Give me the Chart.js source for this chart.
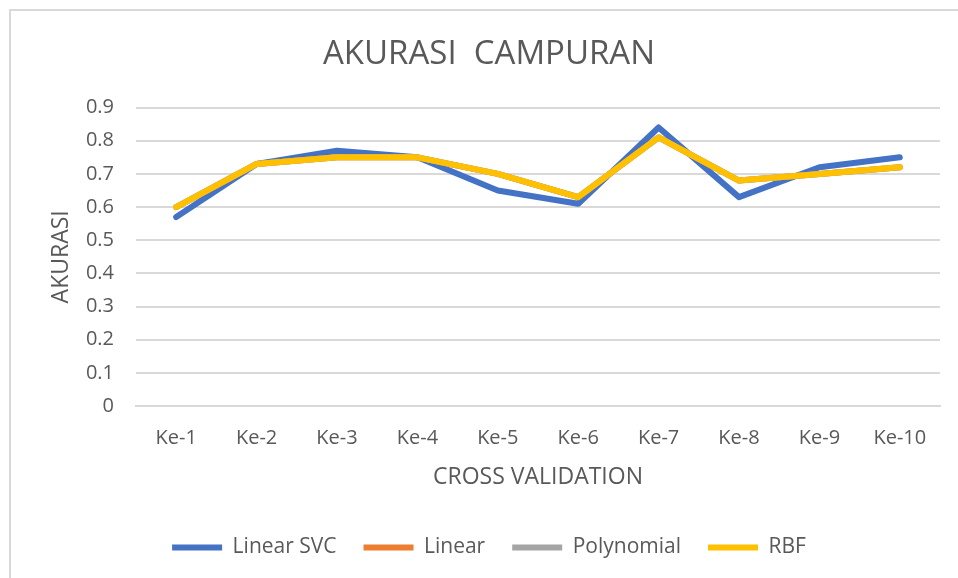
<!DOCTYPE html>
<html>
<head>
<meta charset="utf-8">
<script src="https://cdn.jsdelivr.net/npm/chart.js@4"></script>
<style>
  body { margin: 0; background: #fff; }
  #wrap { position: relative; width: 958px; height: 578px; overflow: hidden; }
  #frame { position: absolute; left: 9px; top: 9px; width: 980px; height: 600px; border: 2px solid #d9d9d9; box-sizing: border-box; }
  canvas { position: absolute; left: 0; top: 0; }
</style>
</head>
<body>
<div id="wrap">
  <div id="frame"></div>
  <canvas id="chart" width="958" height="578"></canvas>
</div>
<script>
const labels = ["Ke-1", "Ke-2", "Ke-3", "Ke-4", "Ke-5", "Ke-6", "Ke-7", "Ke-8", "Ke-9", "Ke-10"];
const linearSvc = [0.57, 0.73, 0.77, 0.75, 0.65, 0.61, 0.84, 0.63, 0.72, 0.75];
const linear = [0.60, 0.73, 0.75, 0.75, 0.70, 0.63, 0.81, 0.68, 0.70, 0.72];
const polynomial = [0.60, 0.73, 0.75, 0.75, 0.70, 0.63, 0.81, 0.68, 0.70, 0.72];
const rbf = [0.60, 0.73, 0.75, 0.75, 0.70, 0.63, 0.81, 0.68, 0.70, 0.72];

const textColor = "#595959";
const gridColor = "#d9d9d9";

function series(label, data, color, order) {
  return {
    label,
    data,
    borderColor: color,
    backgroundColor: color,
    borderWidth: 6,
    borderCapStyle: "round",
    borderJoinStyle: "round",
    pointRadius: 0,
    pointStyle: "line",
    tension: 0,
    order
  };
}

new Chart(document.getElementById("chart"), {
  type: "line",
  data: {
    labels,
    datasets: [
      series("Linear SVC", linearSvc, "#4472C4", 4),
      series("Linear", linear, "#ED7D31", 3),
      series("Polynomial", polynomial, "#A5A5A5", 2),
      series("RBF", rbf, "#FFC000", 1)
    ]
  },
  options: {
    responsive: false,
    animation: false,
    layout: { padding: { left: 38, right: 18, top: 0, bottom: 10 } },
    plugins: {
      tooltip: { enabled: false },
      title: {
        display: true,
        text: "AKURASI  CAMPURAN",
        color: textColor,
        font: { family: "'Liberation Sans Narrow', 'Open Sans', sans-serif", size: 33, weight: "normal" },
        padding: { top: 35, bottom: 33 }
      },
      legend: {
        position: "bottom",
        labels: {
          usePointStyle: true,
          pointStyle: "line",
          pointStyleWidth: 50,
          color: textColor,
          font: { family: "'Open Sans', sans-serif", size: 21 },
          padding: 27,
          sort: (a, b) => a.datasetIndex - b.datasetIndex
        }
      }
    },
    scales: {
      x: {
        offset: true,
        grid: { display: false, drawTicks: false },
        border: { color: gridColor, width: 2 },
        ticks: { color: textColor, font: { family: "'Open Sans', sans-serif", size: 20 }, padding: 20 },
        title: {
          display: true,
          text: "CROSS VALIDATION",
          color: textColor,
          font: { family: "'Open Sans', sans-serif", size: 23 },
          padding: { top: 10, bottom: 19 }
        },
        afterFit: s => { s.height = 104; }
      },
      y: {
        min: 0,
        max: 0.9,
        grid: { color: gridColor, lineWidth: 2, drawTicks: false },
        border: { display: false },
        ticks: {
          stepSize: 0.1,
          color: textColor,
          font: { family: "'Open Sans', sans-serif", size: 20 },
          padding: 22,
          callback: v => Math.round(v * 10) / 10
        },
        title: {
          display: true,
          text: "AKURASI",
          color: textColor,
          font: { family: "'Open Sans', sans-serif", size: 23 },
          padding: { top: 10, bottom: 0 }
        },
        afterFit: s => { s.width = 98; }
      }
    }
  }
});
</script>
</body>
</html>
